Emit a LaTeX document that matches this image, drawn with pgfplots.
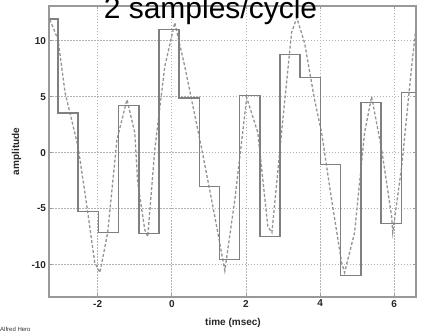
\documentclass[border=0pt]{standalone}
\usepackage{pgfplots}
\pgfplotsset{compat=1.18}
\usepackage{fontspec}
\setmainfont{Liberation Sans}
\begin{document}
\begin{tikzpicture}
\begin{axis}[
  at={(0pt,0pt)}, anchor=south west,
  scale only axis, width=367pt, height=290pt,
  xmin=-3.3, xmax=6.6, ymin=-12.85, ymax=13.05,
  xtick={-2,0,2,4,6}, ytick={-10,-5,0,5,10},
  grid=major,
  major grid style={black!30, line width=0.9pt, dash pattern=on 1.5pt off 1.5pt},
  axis line style={black!40, line width=2pt},
  tick style={black!40, line width=0.8pt},
  major tick length=3pt,
  tick align=inside,
  ticklabel style={font=\fontsize{10}{12}\selectfont\bfseries, text=black!85},
  /pgf/number format/assume math mode=true,
  clip=true,
]
% sampled signal (dashed)
\addplot[black!42, line width=1.3pt, dash pattern=on 3pt off 2pt] coordinates {
(-3.29,11.88) (-3.07,10.09) (-2.88,5.36) (-2.53,0.54) (-2.29,-4.82) (-2.08,-9.82)
(-1.94,-10.71) (-1.73,-7.14) (-1.48,1.16) (-1.21,4.73) (-1.00,1.79) (-0.92,-2.68)
(-0.73,-6.88) (-0.65,-7.5) (-0.46,0.27) (-0.19,7.68) (0.08,11.61) (0.35,7.68)
(0.81,0.27) (1.16,-5.71) (1.43,-10.54) (1.70,-4.2) (2.02,4.91) (2.32,1.79)
(2.59,-6.61) (2.70,-7.14) (2.96,1.79) (3.23,10.71) (3.37,12.05) (3.58,9.82)
(3.85,4.73) (4.04,1.79) (4.31,-4.2) (4.58,-9.82) (4.66,-10.71) (4.93,-7.14)
(5.20,1.79) (5.39,5.0) (5.66,0.27) (5.93,-5.71) (5.96,-7.14) (6.20,-1.25)
(6.47,7.68) (6.60,11.61)
};
% zero-order hold staircase
\addplot[black!50, line width=1.5pt, const plot mark left] coordinates {
(-3.30,11.94) (-3.07,3.54) (-2.53,-5.24) (-1.98,-7.12) (-1.44,4.20) (-0.89,-7.23)
(-0.35,10.98) (0.20,4.88) (0.74,-3.01) (1.29,-9.55) (1.83,5.09) (2.38,-7.47)
(2.92,8.75) (3.46,6.72) (4.01,-1.07) (4.55,-10.98) (5.10,4.46) (5.64,-6.34)
(6.19,5.38) (6.60,5.38)
};
\end{axis}
\node[anchor=base, font=\fontsize{30}{36}\selectfont] at (161pt,277.5pt) {2 samples/cycle};
\node[rotate=90, font=\fontsize{10}{12}\selectfont\bfseries, text=black!85] at (-33pt,145pt) {amplitude};
\node[font=\fontsize{10}{12}\selectfont\bfseries, text=black!85] at (183.5pt,-26pt) {time (msec)};
\node[anchor=base west, font=\fontsize{6}{7}\selectfont, inner sep=0pt, text=black!80] at (-49.5pt,-35pt) {Alfred Hero};
\pgfresetboundingbox
\useasboundingbox (-49.5pt,-36.3pt) rectangle (371.5pt,296.5pt);
\end{tikzpicture}
\end{document}
